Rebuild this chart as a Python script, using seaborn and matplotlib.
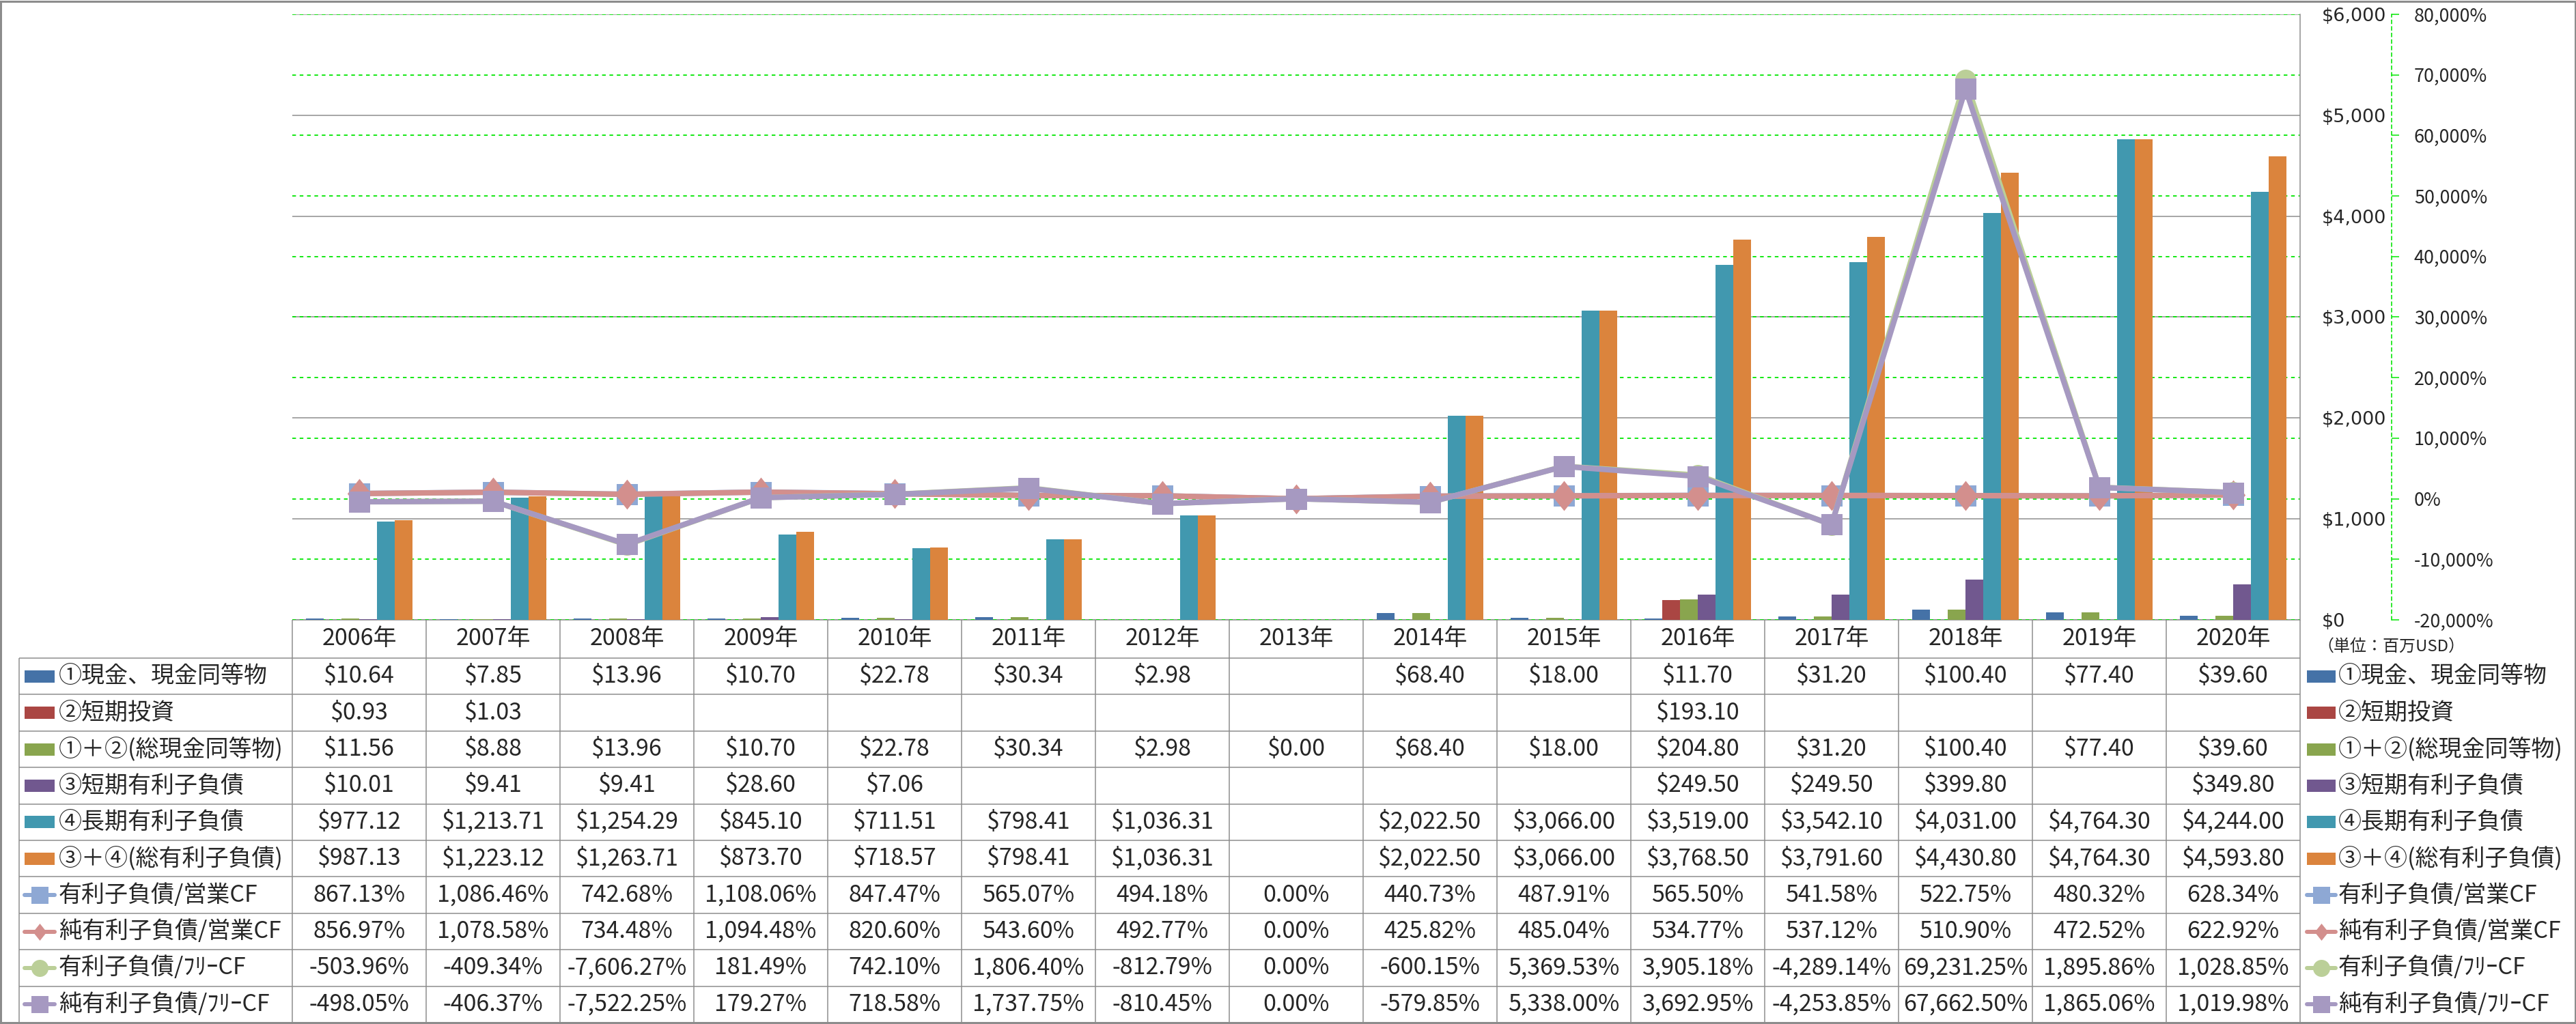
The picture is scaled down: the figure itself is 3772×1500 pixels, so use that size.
import numpy as np
import pandas as pd
import matplotlib
matplotlib.use('Agg')
import matplotlib.pyplot as plt
import matplotlib.transforms as mtransforms
from matplotlib.path import Path
from matplotlib.patches import Rectangle
import seaborn as sns

sns.set_style('white')
plt.rcParams['font.family'] = ['Noto Sans CJK JP', 'DejaVu Sans']

nan = np.nan
years = [f'{y}年' for y in range(2006, 2021)]

# bar series (百万USD)
cash = [10.64, 7.85, 13.96, 10.70, 22.78, 30.34, 2.98, nan, 68.40, 18.00, 11.70, 31.20, 100.40, 77.40, 39.60]
short_inv = [0.93, 1.03, nan, nan, nan, nan, nan, nan, nan, nan, 193.10, nan, nan, nan, nan]
total_cash = [11.56, 8.88, 13.96, 10.70, 22.78, 30.34, 2.98, 0.00, 68.40, 18.00, 204.80, 31.20, 100.40, 77.40, 39.60]
short_debt = [10.01, 9.41, 9.41, 28.60, 7.06, nan, nan, nan, nan, nan, 249.50, 249.50, 399.80, nan, 349.80]
long_debt = [977.12, 1213.71, 1254.29, 845.10, 711.51, 798.41, 1036.31, nan, 2022.50, 3066.00, 3519.00, 3542.10, 4031.00, 4764.30, 4244.00]
total_debt = [987.13, 1223.12, 1263.71, 873.70, 718.57, 798.41, 1036.31, nan, 2022.50, 3066.00, 3768.50, 3791.60, 4430.80, 4764.30, 4593.80]

# line series (%)
debt_ocf = [867.13, 1086.46, 742.68, 1108.06, 847.47, 565.07, 494.18, 0.00, 440.73, 487.91, 565.50, 541.58, 522.75, 480.32, 628.34]
net_debt_ocf = [856.97, 1078.58, 734.48, 1094.48, 820.60, 543.60, 492.77, 0.00, 425.82, 485.04, 534.77, 537.12, 510.90, 472.52, 622.92]
debt_fcf = [-503.96, -409.34, -7606.27, 181.49, 742.10, 1806.40, -812.79, 0.00, -600.15, 5369.53, 3905.18, -4289.14, 69231.25, 1895.86, 1028.85]
net_debt_fcf = [-498.05, -406.37, -7522.25, 179.27, 718.58, 1737.75, -810.45, 0.00, -579.85, 5338.00, 3692.95, -4253.85, 67662.50, 1865.06, 1019.98]

bar_names = ['①現金、現金同等物', '②短期投資', '①＋②(総現金同等物)',
             '③短期有利子負債', '④長期有利子負債', '③＋④(総有利子負債)']
bar_values = [cash, short_inv, total_cash, short_debt, long_debt, total_debt]
bar_colors = ['#4572A7', '#AA4643', '#89A54E', '#71588F', '#4198AF', '#DB843D']

line_names = ['有利子負債/営業CF', '純有利子負債/営業CF', '有利子負債/ﾌﾘｰCF', '純有利子負債/ﾌﾘｰCF']
line_values = [debt_ocf, net_debt_ocf, debt_fcf, net_debt_fcf]
line_colors = ['#8EA8D4', '#D38F8D', '#BBCF98', '#A699C1']
diamond = Path([(0, 1), (0.8, 0), (0, -1), (-0.8, 0), (0, 1)], closed=True)
line_markers = ['s', diamond, 'o', 's']
line_msize = [31, 44, 31, 31]

W, H = 3773, 1500
PT = 0.72  # px -> pt at dpi 100
GRAY = '#8C8C8C'
GREEN = '#00E600'

fig = plt.figure(figsize=(W / 100, H / 100), dpi=100)

# overlay axes in pixel units for the data table
tab = fig.add_axes([0, 0, 1, 1])
tab.set_xlim(0, W)
tab.set_ylim(H, 0)
tab.axis('off')
tab.set_zorder(0)

plot_l, plot_r, plot_t, plot_b = 428, 3368, 21, 908
ax = fig.add_axes([plot_l / W, 1 - plot_b / H, (plot_r - plot_l) / W, (plot_b - plot_t) / H])
ax2 = ax.twinx()
ax.set_zorder(2)
ax2.set_zorder(3)
ax.patch.set_visible(False)
ax2.patch.set_visible(False)

# bars
df = pd.DataFrame({
    'pos': np.tile(np.arange(len(years)), len(bar_names)),
    'series': np.repeat(bar_names, len(years)),
    'value': np.concatenate(bar_values),
}).dropna()
sns.barplot(data=df, x='pos', y='value', hue='series', order=list(range(len(years))),
            hue_order=bar_names, palette=bar_colors, saturation=1, errorbar=None,
            width=0.8, linewidth=0, legend=False, ax=ax)

# secondary ticks / grid (drawn behind the bars)
pticks = list(range(-20000, 80001, 10000))
trans = mtransforms.blended_transform_factory(ax.transAxes, ax2.transData)
ax.hlines(pticks, 0, 1, transform=trans, colors=GREEN, lw=1.8 * PT,
          linestyles=(0, (3, 3)), zorder=0.6)

ax.set_xlim(-0.5, len(years) - 0.5)
ax.set_ylim(0, 6000)
dticks = list(range(0, 6001, 1000))
ax.yaxis.tick_right()
ax.set_yticks(dticks, labels=[f'${v:,}' for v in dticks])
ax.tick_params(axis='y', length=0, pad=32 * PT, labelsize=27 * PT,
               right=True, labelright=True, left=False, labelleft=False)
for lab in ax.get_yticklabels():
    lab.set_fontfamily('DejaVu Sans')
ax.tick_params(axis='x', bottom=False, labelbottom=False)
ax.grid(axis='y', color=GRAY, lw=1.5 * PT)
ax.set_axisbelow(True)
ax.set_xlabel('')
ax.set_ylabel('')
for s in ['left', 'top', 'bottom']:
    ax.spines[s].set_visible(False)
ax.spines['right'].set_color(GRAY)
ax.spines['right'].set_linewidth(1.5 * PT)

# lines
for name, vals, c, m, ms in zip(line_names, line_values, line_colors, line_markers, line_msize):
    sns.lineplot(x=np.arange(len(years)), y=vals, ax=ax2, color=c, linewidth=8 * PT,
                 marker=m, markersize=ms * PT, markeredgewidth=0, markerfacecolor=c,
                 errorbar=None, sort=False, legend=False)

ax2.set_ylim(-20000, 80000)
ax2.set_xlim(-0.5, len(years) - 0.5)
ax2.set_yticks(pticks, labels=[f'{v:,}%' for v in pticks])
for lab, v in zip(ax2.get_yticklabels(), pticks):
    lab.set_color('red' if v < 0 else 'black')
    lab.set_fontfamily('DejaVu Sans')
ax2.tick_params(axis='y', length=11 * PT, width=1.5 * PT, color=GREEN, pad=22 * PT,
                labelsize=27 * PT)
ax2.set_ylabel('')
for s in ['left', 'top', 'bottom']:
    ax2.spines[s].set_visible(False)
ax2.spines['right'].set_position(('outward', 134 * PT))
ax2.spines['right'].set_color(GREEN)
ax2.spines['right'].set_linestyle((0, (3, 3)))
ax2.spines['right'].set_linewidth(1.6 * PT)

# data table
col_x0, col_w, lab_x0 = plot_l, (plot_r - plot_l) / len(years), 28
hdr_top, hdr_bot, tab_bot = plot_b, 964, 1498
row_h = (tab_bot - hdr_bot) / 10
lkw = dict(color=GRAY, lw=1.5 * PT, solid_capstyle='butt')
tab.plot([col_x0, plot_r], [hdr_top, hdr_top], **lkw)
for i in range(11):
    y = hdr_bot + i * row_h
    tab.plot([lab_x0, plot_r], [y, y], **lkw)
for j in range(len(years) + 1):
    x = col_x0 + j * col_w
    tab.plot([x, x], [hdr_top, tab_bot], **lkw)
tab.plot([lab_x0, lab_x0], [hdr_bot, tab_bot], **lkw)

fs = 34 * PT
for j, yl in enumerate(years):
    tab.text(col_x0 + (j + 0.5) * col_w, (hdr_top + hdr_bot) / 2, yl,
             ha='center', va='center', fontsize=fs)

rows = []
for n, v, c in zip(bar_names, bar_values, bar_colors):
    rows.append((n, v, 'bar', c, None))
for n, v, c, m in zip(line_names, line_values, line_colors, line_markers):
    rows.append((n, v, 'line', c, m))


def draw_key(x0, x1, yc, kind, c, m):
    if kind == 'bar':
        tab.add_patch(Rectangle((x0, yc - 9), x1 - x0, 18, color=c, lw=0))
    else:
        tab.plot([x0, x1], [yc, yc], color=c, lw=6 * PT, solid_capstyle='round')
        tab.plot([(x0 + x1) / 2], [yc], marker=m, color=c, ms=25 * PT, mew=0)


for i, (n, vals, kind, c, m) in enumerate(rows):
    yc = hdr_bot + (i + 0.5) * row_h
    draw_key(36, 80, yc, kind, c, m)
    tab.text(86, yc, n, ha='left', va='center', fontsize=fs)
    draw_key(3378, 3420, yc, kind, c, m)
    tab.text(3424, yc, n, ha='left', va='center', fontsize=fs)
    for j, v in enumerate(vals):
        if np.isnan(v):
            continue
        s = f'${v:,.2f}' if kind == 'bar' else f'{v:,.2f}%'
        tab.text(col_x0 + (j + 0.5) * col_w, yc, s, ha='center', va='center', fontsize=fs)

tab.text(3393, 947, '（単位：百万USD）', ha='left', va='center', fontsize=24 * PT)

# outer frame
tab.add_patch(Rectangle((1.5, 1.5), W - 3.5, tab_bot - 1.5, fill=False, ec=GRAY, lw=3 * PT))

fig.savefig('out.png', dpi=100)
